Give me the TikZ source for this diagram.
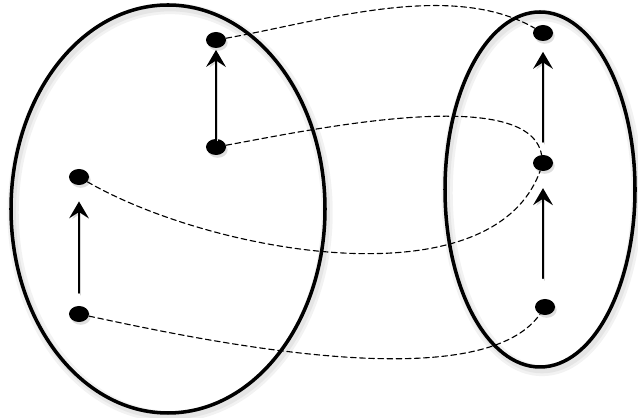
\documentclass[tikz,border=0pt]{standalone}
\usetikzlibrary{arrows.meta,shadows,shapes.geometric}
\tikzset{
  dot/.style={ellipse,fill=black,inner sep=0pt,minimum width=0.5cm,minimum height=0.4cm,
    drop shadow={shadow xshift=1.2pt,shadow yshift=-2pt,opacity=0.25}},
  region/.style={line width=2.5pt,
    preaction={draw=black!5,line width=8pt,transform canvas={xshift=1.5pt,yshift=-2.5pt}},
    preaction={draw=black!10,line width=4pt,transform canvas={xshift=1.5pt,yshift=-2.5pt}}},
  lift/.style={line width=1.1pt,-{Stealth[length=12pt,width=14pt,inset=4.5pt]},
    preaction={draw=black!15,transform canvas={xshift=1.2pt,yshift=-1.5pt}}},
  link/.style={line width=0.8pt,dash pattern=on 4pt off 2.5pt}
}
\begin{document}
\begin{tikzpicture}[x=0.025cm,y=0.025cm,line cap=round,line join=round]
  \useasboundingbox (0,0) rectangle (638,418);
  \draw[region] (168,209) ellipse [x radius=157, y radius=204];
  \draw[region] (540,228.5) ellipse [x radius=95, y radius=177.5];
  \node[dot] (a1) at (216,378) {};
  \node[dot] (a2) at (216,271) {};
  \node[dot] (a3) at (79,241) {};
  \node[dot] (a4) at (79,104) {};
  \node[dot] (b1) at (543,385) {};
  \node[dot] (b2) at (543,255) {};
  \node[dot] (b3) at (545,111) {};
  \draw[link] (a1) to[out=10,in=150,looseness=0.8] (b1);
  \draw[link] (a2) to[out=10,in=100,looseness=0.6] (b2);
  \draw[link] (a3) to[out=-30,in=-110,looseness=0.8] (b2);
  \draw[link] (a4) to[out=-12,in=-125,looseness=0.6] (b3);
  \draw[lift,shorten >=1.2pt] (a2) -- (a1);
  \draw[lift,shorten <=9pt,shorten >=11.5pt] (a4) -- (a3);
  \draw[lift,shorten <=9pt,shorten >=7.5pt] (b2) -- (b1);
  \draw[lift,shorten <=14.5pt,shorten >=12pt] (b3.north -| b2) -- (b2);
\end{tikzpicture}
\end{document}
